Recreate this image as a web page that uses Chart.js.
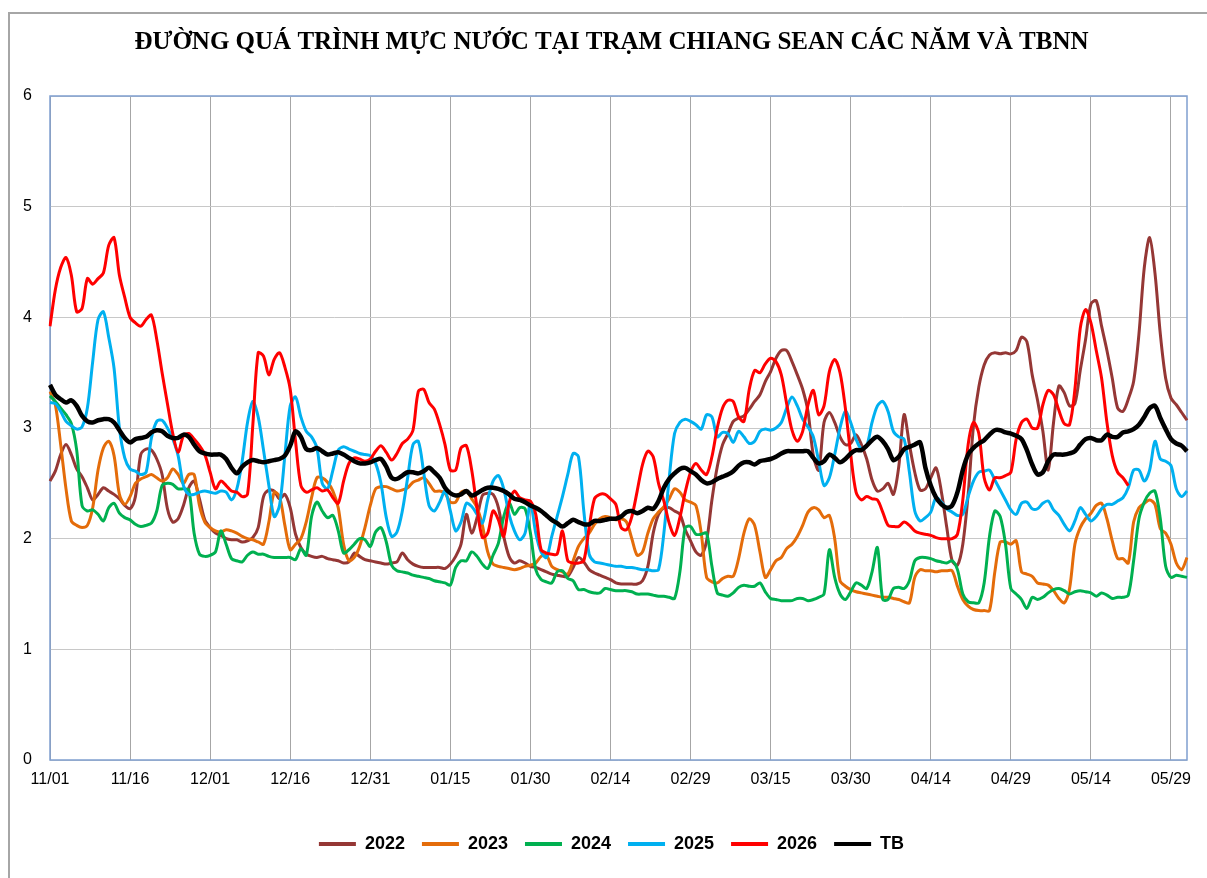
<!DOCTYPE html>
<html>
<head>
<meta charset="utf-8">
<script src="https://cdn.jsdelivr.net/npm/chart.js@4.4.1/dist/chart.umd.min.js"></script>
<style>
  html, body { margin: 0; padding: 0; background: #fff; }
  #wrap { position: relative; width: 1207px; height: 878px; overflow: hidden; }
  #frame { position: absolute; left: 8px; top: 12px; width: 1300px; height: 1000px;
           border-left: 2px solid #a6a6a6; border-top: 2px solid #a6a6a6; }
  canvas { position: absolute; left: 0; top: 0; }
</style>
</head>
<body>
<div id="wrap">
  <div id="frame"></div>
  <canvas id="chart" width="1207" height="878"></canvas>
</div>
<script>
let titleText = 'ĐƯỜNG QUÁ TRÌNH MỰC NƯỚC TẠI TRẠM CHIANG SEAN CÁC NĂM VÀ TBNN';

// season runs 01/11 -> 01/06, leap February
let monthDays = [[11, 30], [12, 31], [1, 31], [2, 29], [3, 31], [4, 30], [5, 31], [6, 1]];
let days = [];
monthDays.forEach(function (m) {
    for (let d = 1; d <= m[1]; d++) {
        days.push(String(m[0]).padStart(2, '0') + '/' + String(d).padStart(2, '0'));
    }
});
let tickEvery = 15;   // 11/01, 11/16, ... 05/29

let y2022 = [
    2.52, 2.61, 2.76, 2.85, 2.76, 2.63, 2.56, 2.46, 2.35, 2.40,
    2.46, 2.43, 2.40, 2.36, 2.30, 2.27, 2.38, 2.76, 2.81, 2.80,
    2.72, 2.58, 2.27, 2.15, 2.18, 2.30, 2.46, 2.52, 2.36, 2.17,
    2.10, 2.05, 2.03, 2.00, 1.99, 1.99, 1.97, 1.98, 2.01, 2.10,
    2.38, 2.44, 2.43, 2.36, 2.40, 2.28, 2.04, 1.92, 1.86, 1.84,
    1.83, 1.84, 1.82, 1.81, 1.80, 1.78, 1.79, 1.87, 1.84, 1.81,
    1.80, 1.79, 1.78, 1.77, 1.78, 1.79, 1.87, 1.81, 1.77, 1.75,
    1.74, 1.74, 1.74, 1.74, 1.73, 1.77, 1.84, 1.95, 2.22, 2.05,
    2.19, 2.39, 2.41, 2.40, 2.28, 2.02, 1.84, 1.78, 1.80, 1.78,
    1.75, 1.74, 1.72, 1.70, 1.68, 1.67, 1.66, 1.66, 1.74, 1.83,
    1.79, 1.72, 1.69, 1.67, 1.65, 1.63, 1.60, 1.59, 1.59, 1.59,
    1.59, 1.62, 1.75, 2.05, 2.22, 2.28, 2.28, 2.25, 2.22, 2.08,
    1.98, 1.88, 1.85, 1.98, 2.35, 2.65, 2.85, 2.95, 3.06, 3.09,
    3.11, 3.17, 3.24, 3.30, 3.42, 3.51, 3.63, 3.70, 3.70, 3.60,
    3.48, 3.35, 3.15, 2.75, 2.62, 3.05, 3.14, 3.05, 2.92, 2.85,
    2.86, 2.94, 2.85, 2.72, 2.53, 2.43, 2.45, 2.50, 2.40, 2.65,
    3.12, 2.85, 2.60, 2.44, 2.45, 2.55, 2.64, 2.42, 2.10, 1.80,
    1.76, 1.95, 2.40, 3.02, 3.37, 3.57, 3.66, 3.68, 3.67, 3.68,
    3.67, 3.70, 3.82, 3.78, 3.48, 3.25, 2.97, 2.62, 3.05, 3.38,
    3.32, 3.20, 3.22, 3.52, 3.80, 4.12, 4.15, 3.92, 3.70, 3.45,
    3.18, 3.15, 3.26, 3.42, 3.85, 4.45, 4.72, 4.40, 3.85, 3.45,
    3.27, 3.21, 3.14, 3.07
];

let y2023 = [
    3.33, 3.21, 2.85, 2.45, 2.16, 2.12, 2.10, 2.12, 2.28, 2.62,
    2.82, 2.88, 2.75, 2.40, 2.31, 2.38, 2.50, 2.54, 2.56, 2.58,
    2.55, 2.52, 2.55, 2.63, 2.58, 2.50, 2.58, 2.58, 2.30, 2.15,
    2.10, 2.07, 2.06, 2.08, 2.07, 2.05, 2.02, 2.00, 1.99, 1.97,
    1.95, 2.15, 2.42, 2.38, 2.12, 1.90, 1.95, 2.00, 2.15, 2.37,
    2.55, 2.55, 2.51, 2.43, 2.28, 1.95, 1.80, 1.83, 1.93, 2.10,
    2.30, 2.45, 2.47, 2.47, 2.45, 2.43, 2.44, 2.46, 2.51, 2.53,
    2.55, 2.50, 2.43, 2.43, 2.41, 2.33, 2.33, 2.42, 2.43, 2.36,
    2.28, 2.12, 1.88, 1.77, 1.75, 1.74, 1.73, 1.72, 1.73, 1.75,
    1.76, 1.78, 1.84, 1.85, 1.75, 1.72, 1.70, 1.68, 1.80, 1.93,
    2.00, 2.05, 2.13, 2.18, 2.20, 2.19, 2.17, 2.18, 2.15, 2.00,
    1.85, 1.88, 2.05, 2.18, 2.24, 2.29, 2.36, 2.45, 2.42, 2.35,
    2.33, 2.30, 2.05, 1.65, 1.61, 1.60, 1.64, 1.66, 1.66, 1.82,
    2.05, 2.18, 2.12, 1.88, 1.65, 1.72, 1.80, 1.83, 1.91, 1.95,
    2.02, 2.12, 2.24, 2.28, 2.26, 2.19, 2.21, 2.00, 1.62, 1.57,
    1.54, 1.52, 1.51, 1.50, 1.49, 1.48, 1.47, 1.47, 1.46, 1.45,
    1.43, 1.42, 1.65, 1.72, 1.71, 1.71, 1.70, 1.71, 1.71, 1.71,
    1.57, 1.45, 1.39, 1.36, 1.35, 1.35, 1.35, 1.70, 1.97, 1.97,
    1.95, 1.98, 1.70, 1.68, 1.66, 1.60, 1.59, 1.58, 1.53, 1.46,
    1.42, 1.55, 1.95, 2.10, 2.18, 2.23, 2.30, 2.32, 2.18, 1.98,
    1.82, 1.82, 1.78, 2.15, 2.28, 2.32, 2.35, 2.31, 2.09, 2.05,
    1.95, 1.78, 1.72, 1.83
];

let y2024 = [
    3.29, 3.24, 3.18, 3.12, 3.04, 2.80, 2.30, 2.25, 2.26, 2.22,
    2.16, 2.28, 2.32, 2.23, 2.19, 2.17, 2.13, 2.11, 2.12, 2.14,
    2.25, 2.48, 2.50, 2.49, 2.45, 2.45, 2.44, 2.05, 1.86, 1.84,
    1.85, 1.88, 2.07, 1.95, 1.82, 1.80, 1.79, 1.85, 1.88, 1.86,
    1.86, 1.84, 1.83, 1.83, 1.83, 1.83, 1.81, 1.91, 1.85, 2.20,
    2.33, 2.25, 2.19, 2.21, 2.07, 1.87, 1.90, 1.95, 2.00, 1.99,
    1.93, 2.06, 2.10, 1.97, 1.76, 1.71, 1.70, 1.69, 1.67, 1.66,
    1.65, 1.64, 1.62, 1.61, 1.60, 1.58, 1.74, 1.80, 1.80, 1.88,
    1.84, 1.77, 1.73, 1.85, 1.96, 2.20, 2.33, 2.22, 2.28, 2.27,
    2.05, 1.72, 1.63, 1.61, 1.60, 1.70, 1.71, 1.64, 1.62, 1.54,
    1.54, 1.52, 1.51, 1.51, 1.55, 1.54, 1.53, 1.53, 1.53, 1.52,
    1.50, 1.50, 1.50, 1.49, 1.48, 1.48, 1.47, 1.46, 1.70, 2.10,
    2.11, 2.04, 2.04, 2.05, 1.75, 1.51, 1.49, 1.48, 1.51, 1.56,
    1.58, 1.57, 1.57, 1.60, 1.52, 1.46, 1.45, 1.44, 1.44, 1.44,
    1.46, 1.46, 1.44, 1.45, 1.47, 1.50, 1.90, 1.65, 1.50, 1.45,
    1.52, 1.60, 1.58, 1.55, 1.70, 1.92, 1.45, 1.45, 1.55, 1.56,
    1.55, 1.62, 1.80, 1.83, 1.83, 1.82, 1.80, 1.79, 1.78, 1.80,
    1.72, 1.50, 1.43, 1.42, 1.42, 1.60, 2.02, 2.25, 2.20, 1.95,
    1.55, 1.50, 1.45, 1.37, 1.47, 1.45, 1.47, 1.51, 1.54, 1.55,
    1.53, 1.50, 1.52, 1.53, 1.52, 1.51, 1.48, 1.51, 1.49, 1.46,
    1.47, 1.47, 1.49, 1.80, 2.18, 2.33, 2.41, 2.43, 2.18, 1.75,
    1.65, 1.67, 1.66, 1.65
];

let y2025 = [
    3.23, 3.22, 3.15, 3.06, 3.02, 2.99, 3.01, 3.18, 3.60, 3.98,
    4.05, 3.82, 3.54, 3.00, 2.73, 2.63, 2.61, 2.58, 2.60, 2.91,
    3.06, 3.07, 3.00, 2.90, 2.75, 2.48, 2.40, 2.40, 2.42, 2.43,
    2.42, 2.41, 2.43, 2.42, 2.35, 2.45, 2.70, 3.05, 3.24, 3.10,
    2.80, 2.48, 2.20, 2.30, 2.75, 3.20, 3.28, 3.10, 2.97, 2.92,
    2.82, 2.50, 2.45, 2.62, 2.80, 2.83, 2.81, 2.79, 2.77, 2.76,
    2.75, 2.68, 2.50, 2.19, 2.02, 2.06, 2.25, 2.55, 2.85, 2.88,
    2.60, 2.30, 2.25, 2.33, 2.43, 2.25, 2.07, 2.15, 2.32, 2.29,
    2.22, 2.14, 2.35, 2.52, 2.57, 2.45, 2.22, 2.07, 1.99, 2.05,
    2.32, 2.05, 1.88, 1.83, 2.02, 2.20, 2.38, 2.58, 2.77, 2.74,
    2.25, 1.86, 1.79, 1.78, 1.77, 1.76, 1.75, 1.75, 1.74, 1.74,
    1.73, 1.72, 1.72, 1.71, 1.72, 2.05, 2.55, 2.95, 3.05, 3.08,
    3.06, 3.03, 2.99, 3.12, 3.10, 2.92, 2.96, 2.95, 2.87, 2.97,
    2.92, 2.86, 2.88, 2.97, 2.99, 2.98, 3.00, 3.05, 3.18, 3.28,
    3.20, 3.08, 3.01, 2.92, 2.70, 2.48, 2.55, 2.76, 3.00, 3.15,
    3.05, 2.90, 2.81, 2.84, 3.05, 3.20, 3.24, 3.15, 2.97, 2.92,
    2.90, 2.60, 2.25, 2.16, 2.19, 2.24, 2.37, 2.33, 2.27, 2.24,
    2.21, 2.22, 2.38, 2.52, 2.60, 2.61, 2.62, 2.53, 2.44, 2.35,
    2.26, 2.22, 2.32, 2.33, 2.27, 2.27, 2.32, 2.34, 2.26, 2.21,
    2.13, 2.07, 2.16, 2.28, 2.22, 2.16, 2.20, 2.27, 2.31, 2.31,
    2.34, 2.37, 2.46, 2.62, 2.62, 2.52, 2.62, 2.88, 2.72, 2.70,
    2.66, 2.45, 2.38, 2.43
];

let y2026 = [
    3.92, 4.25, 4.45, 4.54, 4.38, 4.05, 4.08, 4.35, 4.30, 4.35,
    4.40, 4.65, 4.72, 4.38, 4.18, 4.00, 3.95, 3.92, 3.98, 4.02,
    3.80, 3.50, 3.22, 2.95, 2.78, 2.93, 2.95, 2.90, 2.84, 2.76,
    2.60, 2.45, 2.52, 2.48, 2.43, 2.42, 2.38, 2.40, 3.03, 3.68,
    3.65, 3.48, 3.62, 3.68, 3.55, 3.35, 2.88, 2.48, 2.42, 2.44,
    2.46, 2.43, 2.44, 2.37, 2.32, 2.52, 2.68, 2.73, 2.72, 2.70,
    2.72, 2.79, 2.84, 2.78, 2.71, 2.77, 2.86, 2.90, 2.98, 3.33,
    3.35, 3.23, 3.17, 3.03, 2.85, 2.62, 2.62, 2.82, 2.84, 2.62,
    2.28, 2.01, 2.05, 2.25, 2.17, 2.02, 2.32, 2.43, 2.37, 2.35,
    2.34, 2.22, 1.90, 1.87, 1.86, 1.86, 2.07, 1.80, 1.78, 1.78,
    1.80, 2.10, 2.36, 2.40, 2.40, 2.36, 2.31, 2.10, 2.08, 2.20,
    2.43, 2.67, 2.79, 2.74, 2.50, 2.34, 2.14, 2.03, 2.19, 2.42,
    2.60, 2.68, 2.62, 2.58, 2.74, 3.00, 3.18, 3.25, 3.24, 3.10,
    3.06, 3.35, 3.52, 3.50, 3.58, 3.63, 3.60, 3.48, 3.22, 2.98,
    2.88, 2.97, 3.21, 3.34, 3.12, 3.20, 3.51, 3.62, 3.50, 3.18,
    2.76, 2.42, 2.35, 2.38, 2.36, 2.35, 2.24, 2.12, 2.11, 2.11,
    2.15, 2.12, 2.07, 2.05, 2.04, 2.03, 2.01, 2.00, 2.00, 2.00,
    2.04, 2.35, 2.85, 3.05, 2.95, 2.55, 2.44, 2.55, 2.55, 2.57,
    2.60, 2.90, 3.05, 3.08, 3.00, 3.00, 3.21, 3.34, 3.30, 3.16,
    3.04, 3.03, 3.35, 3.90, 4.07, 3.95, 3.70, 3.45, 3.05, 2.75,
    2.60, 2.55, 2.48, null, null, null, null, null, null, null,
    null, null, null, null
];

let yTB = [
    3.39, 3.30, 3.26, 3.23, 3.25, 3.20, 3.11, 3.06, 3.05, 3.07,
    3.08, 3.08, 3.05, 2.98, 2.91, 2.87, 2.90, 2.91, 2.92, 2.96,
    2.98, 2.97, 2.93, 2.91, 2.91, 2.94, 2.92, 2.85, 2.79, 2.77,
    2.76, 2.76, 2.76, 2.72, 2.64, 2.59, 2.65, 2.69, 2.71, 2.70,
    2.69, 2.70, 2.71, 2.72, 2.75, 2.84, 2.97, 2.92, 2.81, 2.80,
    2.82, 2.79, 2.76, 2.77, 2.78, 2.76, 2.73, 2.70, 2.68, 2.68,
    2.69, 2.71, 2.72, 2.65, 2.55, 2.54, 2.57, 2.60, 2.60, 2.59,
    2.61, 2.64, 2.60, 2.55, 2.46, 2.41, 2.39, 2.40, 2.43, 2.39,
    2.41, 2.44, 2.46, 2.46, 2.45, 2.43, 2.40, 2.36, 2.35, 2.33,
    2.30, 2.28, 2.25, 2.21, 2.17, 2.14, 2.11, 2.14, 2.17, 2.15,
    2.13, 2.13, 2.16, 2.16, 2.17, 2.18, 2.18, 2.20, 2.24, 2.25,
    2.23, 2.25, 2.28, 2.27, 2.34, 2.46, 2.54, 2.59, 2.63, 2.64,
    2.61, 2.58, 2.53, 2.50, 2.51, 2.54, 2.56, 2.58, 2.61, 2.66,
    2.69, 2.69, 2.67, 2.70, 2.71, 2.72, 2.74, 2.77, 2.79, 2.79,
    2.79, 2.79, 2.79, 2.73, 2.68, 2.70, 2.76, 2.73, 2.69, 2.72,
    2.77, 2.80, 2.80, 2.84, 2.89, 2.92, 2.88, 2.81, 2.71, 2.74,
    2.81, 2.83, 2.85, 2.87, 2.64, 2.48, 2.37, 2.31, 2.28, 2.30,
    2.42, 2.62, 2.76, 2.82, 2.86, 2.89, 2.94, 2.98, 2.98, 2.96,
    2.95, 2.93, 2.90, 2.80, 2.67, 2.58, 2.60, 2.70, 2.76, 2.76,
    2.76, 2.77, 2.79, 2.85, 2.90, 2.91, 2.89, 2.89, 2.94, 2.92,
    2.92, 2.96, 2.97, 2.99, 3.03, 3.10, 3.18, 3.20, 3.09, 2.99,
    2.90, 2.86, 2.84, 2.79
];

let seriesNames = ['2022', '2023', '2024', '2025', '2026', 'TB'];
let seriesColors = ['#953735', '#E46C0A', '#00B050', '#00B0F0', '#FF0000', '#000000'];
let seriesData = [y2022, y2023, y2024, y2025, y2026, yTB];

let datasets = seriesNames.map(function (name, i) {
    return {
        label: name,
        data: seriesData[i],
        borderColor: seriesColors[i],
        backgroundColor: seriesColors[i],
        borderWidth: name == 'TB' ? 4.5 : 3,
        pointRadius: 0,
        tension: 0.3,
        fill: false,
        order: seriesNames.length - i   // later series on top, like Excel
    };
});

let axisFont = { family: '"Liberation Sans", Arial, sans-serif', size: 16 };

// blue frame round the plot area
let plotBorder = {
    id: 'plotBorder',
    beforeDatasetsDraw: function (chart) {
        let a = chart.chartArea;
        let c = chart.ctx;
        c.save();
        c.strokeStyle = '#7F9FCF';
        c.lineWidth = 1.5;
        c.strokeRect(a.left, a.top, a.right - a.left, a.bottom - a.top);
        c.restore();
    }
};

let ctx = document.getElementById('chart').getContext('2d');
let chart = new Chart(ctx, {
    type: 'line',
    data: { labels: days, datasets: datasets },
    options: {
        responsive: false,
        animation: false,
        devicePixelRatio: 1,
        // left padding keeps title and legend centred like the original
        layout: { padding: { top: 28, right: 20, bottom: 15, left: 36 } },
        plugins: {
            title: {
                display: true,
                text: titleText,
                color: '#000',
                font: { family: '"Liberation Serif", "Times New Roman", serif', size: 25, weight: 'bold' },
                padding: { top: 0, bottom: 38 }
            },
            legend: {
                position: 'bottom',
                labels: {
                    boxWidth: 37,
                    boxHeight: 4,
                    padding: 17,
                    color: '#000',
                    font: { family: '"Liberation Sans", Arial, sans-serif', size: 18, weight: 'bold' },
                    generateLabels: function (chart) {
                        return chart.data.datasets.map(function (ds, i) {
                            return {
                                text: ds.label,
                                fillStyle: ds.borderColor,
                                strokeStyle: ds.borderColor,
                                lineWidth: 0,
                                hidden: false,
                                datasetIndex: i,
                                fontColor: '#000'
                            };
                        });
                    }
                }
            },
            tooltip: { enabled: false }
        },
        scales: {
            x: {
                type: 'category',
                grid: { color: '#A6A6A6', drawTicks: false },
                border: { display: false },
                ticks: {
                    autoSkip: false,
                    maxRotation: 0,
                    padding: 10,
                    color: '#000',
                    font: axisFont,
                    callback: function (val, i) {
                        return i % tickEvery === 0 ? this.getLabelForValue(val) : null;
                    }
                },
                afterFit: function (scale) { scale.height = 58; }
            },
            y: {
                min: 0,
                max: 6,
                grid: { color: '#C8C8C8', drawTicks: false },
                border: { display: false },
                // mirror + negative padding: labels sit left of the plot without being clipped
                ticks: { stepSize: 1, mirror: true, padding: -27, color: '#000', font: axisFont },
                afterFit: function (scale) { scale.width = 14; }
            }
        }
    },
    plugins: [plotBorder]
});
</script>
</body>
</html>
